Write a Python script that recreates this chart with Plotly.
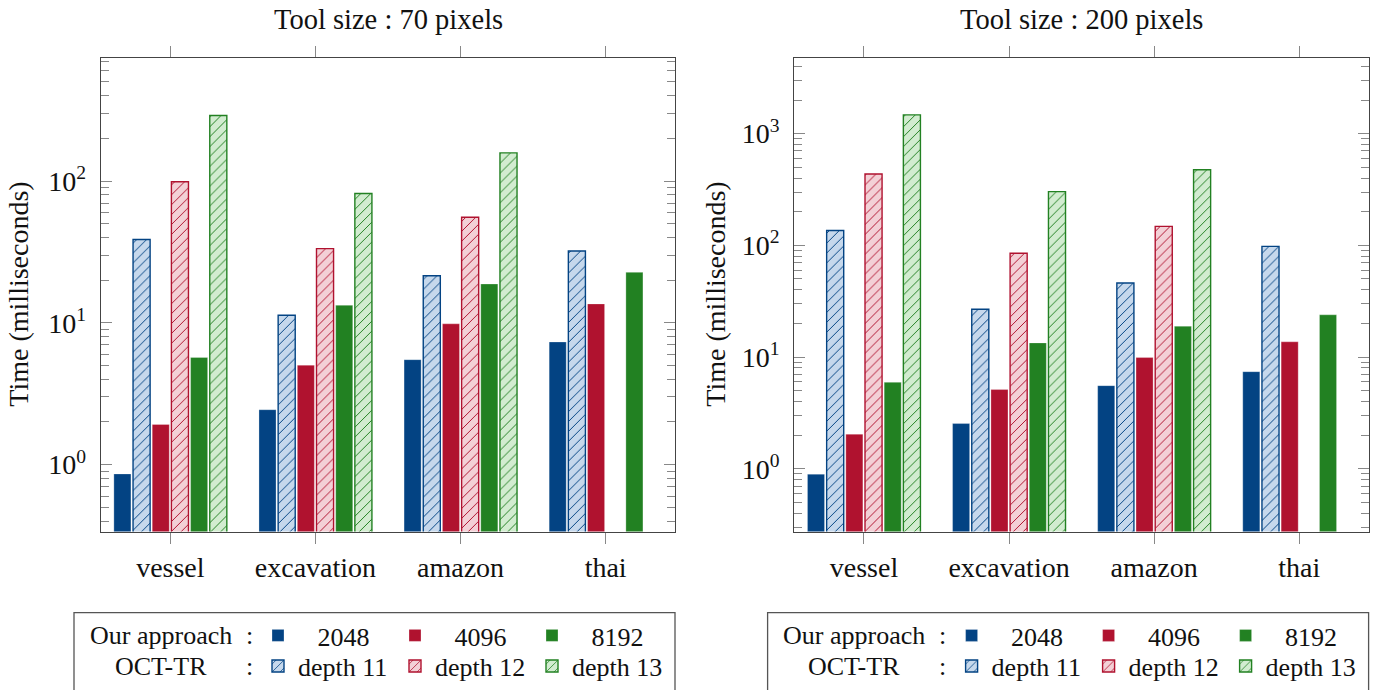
import plotly.graph_objects as go

W, H = 1385, 690

categories = ["vessel", "excavation", "amazon", "thai"]
series_names = ["2048", "depth 11", "4096", "depth 12", "8192", "depth 13"]
series_hatched = [False, True, False, True, False, True]
row_labels = ["Our approach", "OCT-TR"]
panel_titles = ["Tool size : 70 pixels", "Tool size : 200 pixels"]
y_title = "Time (milliseconds)"

# Tool size 70 pixels
t70_ours_2048 = [0.86, 2.44, 5.5, 7.33]
t70_oct_d11 = [38.7, 11.3, 21.5, 32.1]
t70_ours_4096 = [1.92, 5.03, 9.84, 13.6]
t70_oct_d12 = [99.0, 33.4, 55.6, None]
t70_ours_8192 = [5.7, 13.3, 18.8, 22.7]
t70_oct_d13 = [290.0, 81.7, 158.0, None]

# Tool size 200 pixels
t200_ours_2048 = [0.895, 2.54, 5.55, 7.4]
t200_oct_d11 = [136.0, 26.8, 46.0, 98.0]
t200_ours_4096 = [2.04, 5.12, 9.9, 13.7]
t200_oct_d12 = [435.0, 85.0, 148.0, None]
t200_ours_8192 = [5.94, 13.4, 18.9, 23.9]
t200_oct_d13 = [1473.0, 303.0, 475.0, None]

y70_ticks = [1, 10, 100]
y70_ticktext = ["10<sup>0</sup>", "10<sup>1</sup>", "10<sup>2</sup>"]
y200_ticks = [1, 10, 100, 1000]
y200_ticktext = ["10<sup>0</sup>", "10<sup>1</sup>", "10<sup>2</sup>", "10<sup>3</sup>"]

dark = ["#034383", "#034383", "#b0122f", "#b0122f", "#228122", "#228122"]
light = ["#c6d8ec", "#c6d8ec", "#f3d0d6", "#f3d0d6", "#d2ecd0", "#d2ecd0"]

panels = [
    [t70_ours_2048, t70_oct_d11, t70_ours_4096, t70_oct_d12, t70_ours_8192, t70_oct_d13],
    [t200_ours_2048, t200_oct_d11, t200_ours_4096, t200_oct_d12, t200_ours_8192, t200_oct_d13],
]

FONT = "Liberation Serif, DejaVu Serif, serif"
TXT = "#111"

# pixel layout (window coordinates)
frame_left = [100.7, 794.3]
frame_w = 574.6
frame_top, frame_bot = 58.3, 537.0
ytitle_x = [19, 716]


def px(x):
    return x / W


def py(y):
    return 1 - y / H


fig = go.Figure()

legend_ids = [["legend", "legend2"], ["legend3", "legend4"]]

for p, series in enumerate(panels):
    xa = "x" if p == 0 else "x2"
    ya = "y" if p == 0 else "y2"
    for i, vals in enumerate(series):
        hatched = series_hatched[i]
        name = series_names[i] if hatched else "\u00a0" * 3 + series_names[i]
        if hatched:
            marker = dict(
                color=light[i],
                line=dict(color=dark[i], width=1.4),
                pattern=dict(shape="/", fgcolor=dark[i], bgcolor=light[i],
                             size=7, solidity=0.14, fillmode="replace"),
            )
        else:
            marker = dict(color=dark[i], line=dict(color="rgba(255,255,255,0.35)", width=0.8))
        fig.add_trace(go.Bar(
            x=categories, y=vals, name=name, marker=marker,
            xaxis=xa, yaxis=ya,
            legend=legend_ids[p][1 if hatched else 0],
        ))

axis_line = "#444"
tick_col = "#888"

for p in range(2):
    sfx = "" if p == 0 else "2"
    d0 = px(frame_left[p])
    d1 = px(frame_left[p] + frame_w)
    fig.update_layout(**{
        "xaxis" + sfx: dict(
            domain=[d0, d1], anchor="y" + sfx, type="category",
            range=[-0.48, 3.48], showline=True, linecolor=axis_line, linewidth=1.2,
            mirror="ticks", ticks="outside", ticklen=11, tickcolor=tick_col, tickwidth=1.2,
            tickfont=dict(family=FONT, size=28, color=TXT), ticklabelstandoff=0,
            showgrid=False, zeroline=False,
        ),
        "yaxis" + sfx: dict(
            domain=[py(frame_bot), py(frame_top)], anchor="x" + sfx, type="log",
            range=[-0.472, 2.870] if p == 0 else [-0.562, 3.680],
            tickmode="array",
            tickvals=y70_ticks if p == 0 else y200_ticks,
            ticktext=y70_ticktext if p == 0 else y200_ticktext,
            showline=True, linecolor=axis_line, linewidth=1.2, mirror="ticks",
            ticks="inside", ticklen=11, tickcolor=tick_col, tickwidth=1.2,
            tickfont=dict(family=FONT, size=28, color=TXT), ticklabelstandoff=8,
            minor=dict(ticks="inside", ticklen=8, tickcolor=tick_col, tickwidth=1,
                       tickmode="array",
                       tickvals=[m * 10 ** e for e in range(-1, 4) for m in range(2, 10)],
                       showgrid=False),
            showgrid=False, zeroline=False,
        ),
    })
    fig.add_annotation(x=px(ytitle_x[p]), y=py((frame_top + frame_bot) / 2), xref="paper", yref="paper",
                       text=y_title, textangle=-90, showarrow=False,
                       xanchor="center", yanchor="middle",
                       font=dict(family=FONT, size=28, color=TXT))

# legends
leg_row_y = [642, 673]
for p in range(2):
    off = frame_left[p] - frame_left[0]
    for r in range(2):
        lid = legend_ids[p][r]
        fig.update_layout(**{lid: dict(
            orientation="h", x=px(258 + off), y=py(leg_row_y[r]),
            xanchor="left", yanchor="middle",
            entrywidth=92, entrywidthmode="pixels",
            font=dict(family=FONT, size=26, color=TXT),
            bgcolor="rgba(0,0,0,0)", borderwidth=0, traceorder="normal",
            itemclick=False, itemdoubleclick=False,
        )})
        fig.add_annotation(x=px(160.5 + off), y=py(leg_row_y[r]), xref="paper", yref="paper",
                           text=row_labels[r], showarrow=False, xanchor="center", yanchor="middle",
                           font=dict(family=FONT, size=26, color=TXT))
        fig.add_annotation(x=px(249 + off), y=py(leg_row_y[r]), xref="paper", yref="paper",
                           text=":", showarrow=False, xanchor="center", yanchor="middle",
                           font=dict(family=FONT, size=26, color=TXT))
    fig.add_shape(type="rect", xref="paper", yref="paper",
                  x0=px(74 + off), x1=px(675 + off), y0=py(619), y1=py(705),
                  line=dict(color="#555", width=1.3), fillcolor="rgba(0,0,0,0)")
    fig.add_annotation(x=px(frame_left[p] + frame_w / 2), y=py(20), xref="paper", yref="paper",
                       text=panel_titles[p], showarrow=False, xanchor="center", yanchor="middle",
                       font=dict(family=FONT, size=28.5, color=TXT))

fig.update_layout(
    width=W, height=H, margin=dict(l=0, r=0, t=0, b=0),
    barmode="group", bargap=0.207, bargroupgap=0.11,
    paper_bgcolor="white", plot_bgcolor="white",
    showlegend=True,
)

fig.write_html("out.html", config={"displayModeBar": False},
               post_script="document.body.style.margin='0px';")
